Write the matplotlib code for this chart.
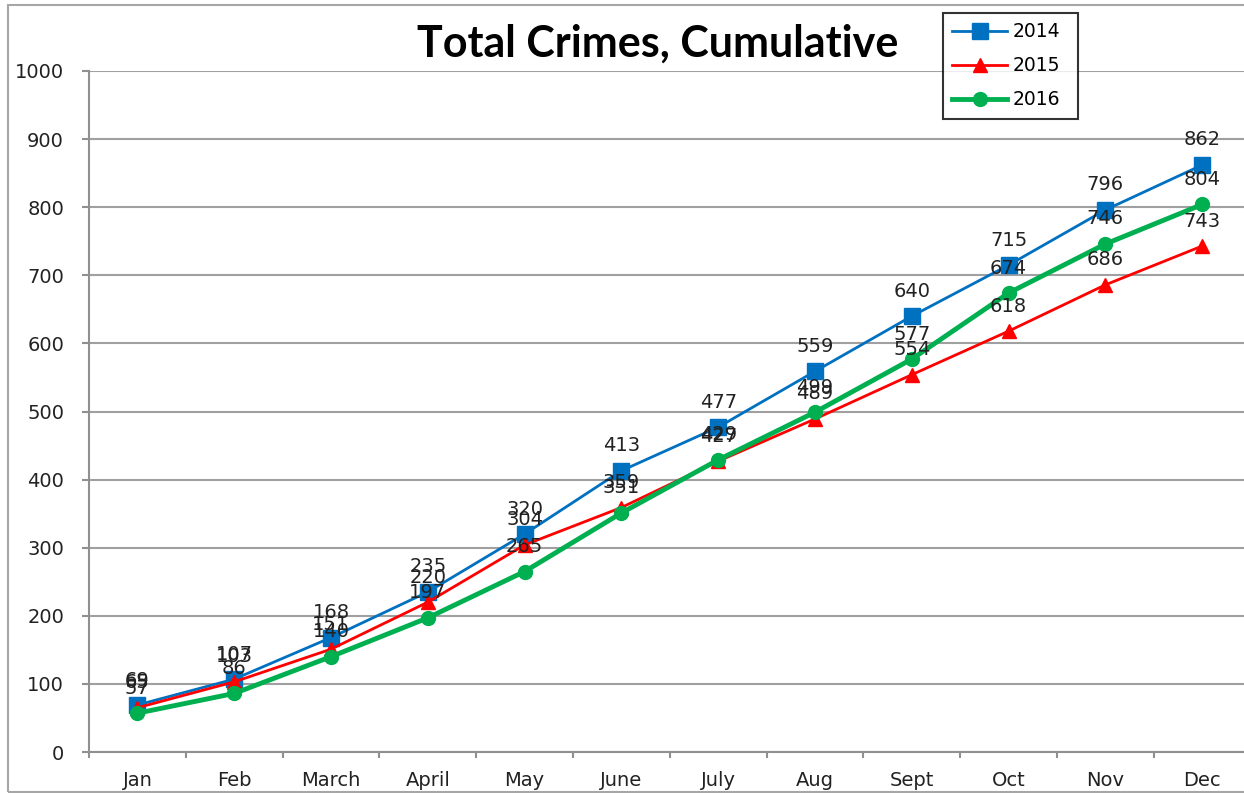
import matplotlib.pyplot as plt
import numpy as np
from matplotlib.patches import Rectangle

# data
months = ["Jan", "Feb", "March", "April", "May", "June", "July", "Aug", "Sept", "Oct", "Nov", "Dec"]
crimes_2014 = [69, 107, 168, 235, 320, 413, 477, 559, 640, 715, 796, 862]
crimes_2015 = [65, 103, 151, 220, 304, 359, 427, 489, 554, 618, 686, 743]
crimes_2016 = [57, 86, 140, 197, 265, 351, 429, 499, 577, 674, 746, 804]
y_ticks = [0, 100, 200, 300, 400, 500, 600, 700, 800, 900, 1000]

W, H = 1244, 793
fig = plt.figure(figsize=(W / 100, H / 100), dpi=100)
fig.patch.set_facecolor("white")

# outer chart frame
fig.patches.append(Rectangle((8 / W, 1 - 792 / H), 1.2, (792 - 5) / H, transform=fig.transFigure,
                             fill=False, edgecolor="#a6a6a6", linewidth=1.5))

# plot area runs past the right edge, like the cropped original
left, right, top, bottom = 89, 89 + 12 * 96.8, 71, 752
ax = fig.add_axes([left / W, 1 - bottom / H, (right - left) / W, (bottom - top) / H])

x = np.arange(len(months))
series = [
    ("2014", crimes_2014, "#0070C0", "s", 2.0, 11.5),
    ("2015", crimes_2015, "#FF0000", "^", 2.0, 10),
    ("2016", crimes_2016, "#00B050", "o", 3.5, 10),
]
for name, vals, col, mk, lw, ms in series:
    ax.plot(x, vals, color=col, marker=mk, linewidth=lw, markersize=ms, label=name, zorder=3)
    for xi, v in zip(x, vals):
        ax.annotate(str(v), (xi, v), xytext=(0, 18), textcoords="offset points",
                    ha="center", va="center", fontsize=14, color="#222222", zorder=4)

ax.set_xlim(-0.5, 11.5)
ax.set_ylim(0, 1000)
ax.set_yticks(y_ticks)
ax.set_yticklabels([str(v) for v in y_ticks], fontsize=14, color="#222222")
ax.set_xticks(x)
ax.set_xticklabels(months, fontsize=14, color="#222222")
ax.set_xticks(np.arange(-0.5, 12, 1), minor=True)
ax.tick_params(axis="x", which="major", length=0, pad=14)
ax.tick_params(axis="x", which="minor", length=4.5, color="#909090", width=1.5)
ax.tick_params(axis="y", length=5, color="#909090", width=1.5, pad=13)

ax.yaxis.grid(True, color="#a0a0a0", linewidth=1.5)
ax.set_axisbelow(True)
for s in ["top", "right"]:
    ax.spines[s].set_visible(False)
for s in ["left", "bottom"]:
    ax.spines[s].set_color("#909090")
    ax.spines[s].set_linewidth(1.5)

fig.text(658 / W, 1 - 44 / H, "Total Crimes, Cumulative", ha="center", va="center",
         fontsize=31, fontweight="bold", family=["Lato", "DejaVu Sans"])

leg = ax.legend(loc="upper left", bbox_to_anchor=(943 / W, 1 - 118 / H, 135 / W, 105 / H),
                bbox_transform=fig.transFigure, mode="expand", fontsize=13.5, frameon=True,
                fancybox=False, edgecolor="black", borderaxespad=0, labelspacing=0.8,
                handlelength=2.9, handletextpad=0.3, borderpad=0.5)
leg.get_frame().set_linewidth(1.5)
leg.set_zorder(5)

fig.savefig("out.png", dpi=100)
